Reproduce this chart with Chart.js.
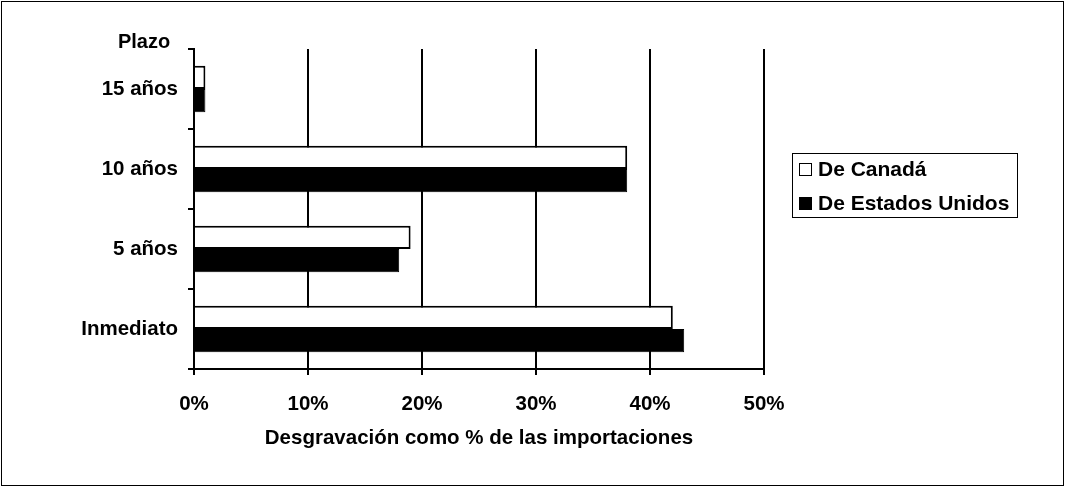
<!DOCTYPE html>
<html>
<head>
<meta charset="utf-8">
<script src="https://cdn.jsdelivr.net/npm/chart.js@4.4.1/dist/chart.umd.min.js"></script>
<style>
  html, body { margin: 0; padding: 0; background: #fff; }
  #wrap { position: relative; width: 1065px; height: 487px; }
  #c { position: absolute; left: 0; top: 0; }
  #legend {
    position: absolute; left: 792px; top: 153px; width: 226px; height: 65px;
    border: 1.5px solid #000; box-sizing: border-box;
    font: bold 21px "Liberation Sans", Arial, sans-serif; color: #000;
  }
  .item { position: absolute; left: 6px; display: flex; align-items: center; white-space: nowrap; line-height: 24px; }
  .sw { width: 11px; height: 11px; border: 1.5px solid #000; margin-right: 6px; box-sizing: content-box; }
</style>
</head>
<body>
<div id="wrap">
  <canvas id="c" width="1065" height="487"></canvas>
  <div id="legend">
    <div class="item" style="top:3px"><span class="sw" style="background:#fff"></span>De Canadá</div>
    <div class="item" style="top:37px"><span class="sw" style="background:#000"></span>De Estados Unidos</div>
  </div>
</div>
<script>
// Plazo de desgravación (de arriba hacia abajo)
const plazos = ['15 años', '10 años', '5 años', 'Inmediato'];
// Desgravación como % de las importaciones
const deCanada = [1, 38, 19, 42];
const deEstadosUnidos = [1, 38, 18, 43];
const xTicks = [0, 10, 20, 30, 40, 50];

const FONT = { family: '"Liberation Sans", Arial, sans-serif', size: 20.5, weight: 'bold' };

// Marco exterior y título "Plazo"
const frame = {
  id: 'frame',
  beforeDraw(chart) {
    const { ctx, width, height } = chart;
    ctx.save();
    ctx.fillStyle = '#fff';
    ctx.fillRect(0, 0, width, height);
    ctx.strokeStyle = '#000';
    ctx.lineWidth = 1;
    ctx.strokeRect(1.5, 1.5, width - 3, height - 3);
    ctx.restore();
  },
  afterDraw(chart) {
    const { ctx, chartArea } = chart;
    ctx.save();
    ctx.font = 'bold 20px "Liberation Sans", Arial, sans-serif';
    ctx.fillStyle = '#000';
    ctx.textAlign = 'center';
    ctx.textBaseline = 'middle';
    ctx.fillText('Plazo', chartArea.left - 50, chartArea.top - 7);
    ctx.restore();
  }
};

new Chart(document.getElementById('c'), {
  type: 'bar',
  data: {
    labels: plazos,
    datasets: [
      { label: 'De Canadá', data: deCanada, backgroundColor: '#fff', borderColor: '#000', borderWidth: 2,
        categoryPercentage: 0.58, barPercentage: 1 },
      { label: 'De Estados Unidos', data: deEstadosUnidos, backgroundColor: '#000', borderColor: '#000', borderWidth: 1,
        categoryPercentage: 0.58, barPercentage: 1 }
    ]
  },
  options: {
    indexAxis: 'y',
    responsive: false,
    animation: false,
    events: [],
    layout: { padding: { left: 0, right: 301, top: 49, bottom: 36 } },
    plugins: { legend: { display: false }, tooltip: { enabled: false } },
    scales: {
      x: {
        min: 0, max: 50,
        afterBuildTicks(s) { s.ticks = xTicks.map(v => ({ value: v })); },
        afterFit(s) { s.height = 82; },
        ticks: { color: '#000', font: FONT, padding: 17, callback: v => v + '%' },
        grid: { color: '#000', lineWidth: 2, tickLength: 6, drawTicks: true },
        border: { color: '#000', width: 2 },
        title: { display: true, text: 'Desgravación como % de las importaciones', color: '#000', font: FONT,
                 padding: { top: 8, bottom: 0 } }
      },
      y: {
        afterFit(s) { s.width = 194; },
        ticks: { color: '#000', font: FONT, padding: 10 },
        grid: { display: true, drawOnChartArea: false, color: '#000', lineWidth: 2, tickLength: 6, offset: true },
        border: { color: '#000', width: 2 }
      }
    }
  },
  plugins: [frame]
});
</script>
</body>
</html>
